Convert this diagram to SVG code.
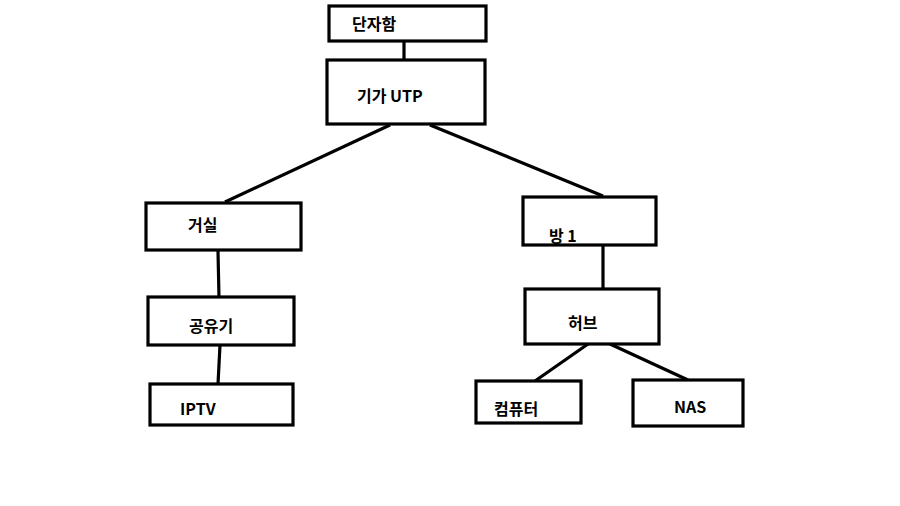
<svg xmlns="http://www.w3.org/2000/svg" width="900" height="506" viewBox="0 0 900 506">
<style>
.box{fill:#fff;stroke:#000;stroke-width:3.2}
.lbl{font-family:"Noto Sans CJK KR","Liberation Sans",sans-serif;font-size:16px;font-weight:bold;fill:#000}
.con{stroke:#000;stroke-width:3.2;fill:none}
</style>
<rect x="0" y="0" width="900" height="506" fill="#fff"/>
<g id="connectors">
<line class="con" x1="404" y1="41" x2="404" y2="60"/>
<line class="con" x1="390" y1="125" x2="225" y2="202"/>
<line class="con" x1="430" y1="125" x2="603" y2="196"/>
<line class="con" x1="218" y1="251" x2="219" y2="298"/>
<line class="con" x1="220" y1="345" x2="218" y2="384"/>
<line class="con" x1="603" y1="245" x2="603" y2="290"/>
<line class="con" x1="588" y1="344" x2="535" y2="381"/>
<line class="con" x1="610" y1="344" x2="688" y2="380"/>
</g>
<g id="n_danjaham"><rect class="box" x="329" y="6" width="157" height="35"/><text class="lbl" x="352" y="30">단자함</text></g>
<g id="n_utp"><rect class="box" x="327" y="60" width="158" height="64"/><text class="lbl" x="357" y="102">기가 UTP</text></g>
<g id="n_geosil"><rect class="box" x="146" y="203" width="155" height="47"/><text class="lbl" x="188" y="231">거실</text></g>
<g id="n_router"><rect class="box" x="148" y="297" width="146" height="48"/><text class="lbl" x="189" y="332">공유기</text></g>
<g id="n_iptv"><rect class="box" x="150" y="384" width="143" height="41"/><text class="lbl" x="180" y="415">IPTV</text></g>
<g id="n_room1"><rect class="box" x="523" y="197" width="133" height="48"/><text class="lbl" x="549" y="242">방 1</text></g>
<g id="n_hub"><rect class="box" x="525" y="289" width="134" height="55"/><text class="lbl" x="568" y="329">허브</text></g>
<g id="n_pc"><rect class="box" x="476" y="381" width="105" height="42"/><text class="lbl" x="494" y="415">컴퓨터</text></g>
<g id="n_nas"><rect class="box" x="633" y="380" width="110" height="46"/><text class="lbl" x="674" y="413">NAS</text></g>
</svg>
